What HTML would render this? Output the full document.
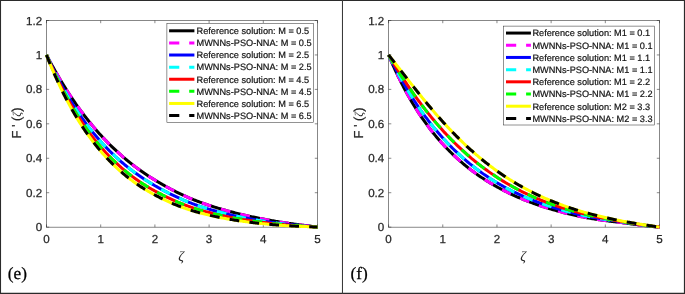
<!DOCTYPE html>
<html><head><meta charset="utf-8"><title>Figure</title>
<style>html,body{margin:0;padding:0;background:#fff}svg{display:block;will-change:transform}text{text-rendering:geometricPrecision}</style></head>
<body>
<svg width="685" height="294" viewBox="0 0 685 294">
<rect x="0" y="0" width="685" height="294" fill="#fff"/>
<rect x="46.5" y="20.5" width="271.0" height="206.65" fill="#fff" stroke="#262626" stroke-width="0.55"/>
<path d="M46.50 227.15v-2.7M46.50 20.5v2.7M100.70 227.15v-2.7M100.70 20.5v2.7M154.90 227.15v-2.7M154.90 20.5v2.7M209.10 227.15v-2.7M209.10 20.5v2.7M263.30 227.15v-2.7M263.30 20.5v2.7M317.50 227.15v-2.7M317.50 20.5v2.7M46.5 227.15h2.7M317.5 227.15h-2.7M46.5 192.71h2.7M317.5 192.71h-2.7M46.5 158.27h2.7M317.5 158.27h-2.7M46.5 123.82h2.7M317.5 123.82h-2.7M46.5 89.38h2.7M317.5 89.38h-2.7M46.5 54.94h2.7M317.5 54.94h-2.7M46.5 20.50h2.7M317.5 20.50h-2.7" stroke="#262626" stroke-width="0.55" fill="none"/>
<text x="46.50" y="243.15" text-anchor="middle" font-family="Liberation Sans, Arial, Helvetica, sans-serif" font-size="11.6" fill="#262626" stroke="#262626" stroke-width="0.25">0</text>
<text x="100.70" y="243.15" text-anchor="middle" font-family="Liberation Sans, Arial, Helvetica, sans-serif" font-size="11.6" fill="#262626" stroke="#262626" stroke-width="0.25">1</text>
<text x="154.90" y="243.15" text-anchor="middle" font-family="Liberation Sans, Arial, Helvetica, sans-serif" font-size="11.6" fill="#262626" stroke="#262626" stroke-width="0.25">2</text>
<text x="209.10" y="243.15" text-anchor="middle" font-family="Liberation Sans, Arial, Helvetica, sans-serif" font-size="11.6" fill="#262626" stroke="#262626" stroke-width="0.25">3</text>
<text x="263.30" y="243.15" text-anchor="middle" font-family="Liberation Sans, Arial, Helvetica, sans-serif" font-size="11.6" fill="#262626" stroke="#262626" stroke-width="0.25">4</text>
<text x="317.50" y="243.15" text-anchor="middle" font-family="Liberation Sans, Arial, Helvetica, sans-serif" font-size="11.6" fill="#262626" stroke="#262626" stroke-width="0.25">5</text>
<text x="42.20" y="231.15" text-anchor="end" font-family="Liberation Sans, Arial, Helvetica, sans-serif" font-size="11.6" fill="#262626" stroke="#262626" stroke-width="0.25">0</text>
<text x="42.20" y="196.71" text-anchor="end" font-family="Liberation Sans, Arial, Helvetica, sans-serif" font-size="11.6" fill="#262626" stroke="#262626" stroke-width="0.25">0.2</text>
<text x="42.20" y="162.27" text-anchor="end" font-family="Liberation Sans, Arial, Helvetica, sans-serif" font-size="11.6" fill="#262626" stroke="#262626" stroke-width="0.25">0.4</text>
<text x="42.20" y="127.82" text-anchor="end" font-family="Liberation Sans, Arial, Helvetica, sans-serif" font-size="11.6" fill="#262626" stroke="#262626" stroke-width="0.25">0.6</text>
<text x="42.20" y="93.38" text-anchor="end" font-family="Liberation Sans, Arial, Helvetica, sans-serif" font-size="11.6" fill="#262626" stroke="#262626" stroke-width="0.25">0.8</text>
<text x="42.20" y="58.94" text-anchor="end" font-family="Liberation Sans, Arial, Helvetica, sans-serif" font-size="11.6" fill="#262626" stroke="#262626" stroke-width="0.25">1</text>
<text x="42.20" y="24.50" text-anchor="end" font-family="Liberation Sans, Arial, Helvetica, sans-serif" font-size="11.6" fill="#262626" stroke="#262626" stroke-width="0.25">1.2</text>
<text x="181.00" y="261.15" text-anchor="middle" font-family="Liberation Serif, Times New Roman, serif" font-style="italic" font-size="14" fill="#262626">ζ</text>
<text transform="translate(20.60 123.03) rotate(-90)" text-anchor="middle" font-family="Liberation Sans, Arial, Helvetica, sans-serif" font-size="13" fill="#262626" stroke="#262626" stroke-width="0.25">F ' (<tspan font-family="Liberation Serif, Times New Roman, serif" font-style="italic" font-size="12" stroke="none">ζ</tspan>)</text>
<polyline points="46.50,54.94 47.58,57.02 48.67,59.08 49.75,61.11 50.84,63.12 51.92,65.11 53.00,67.08 54.09,69.03 55.17,70.95 56.26,72.86 57.34,74.74 58.42,76.60 59.51,78.44 60.59,80.27 61.68,82.07 62.76,83.85 63.84,85.61 64.93,87.35 66.01,89.08 67.10,90.78 68.18,92.47 69.26,94.13 70.35,95.78 71.43,97.41 72.52,99.02 73.60,100.62 74.68,102.19 75.77,103.75 76.85,105.29 77.94,106.81 79.02,108.32 80.10,109.81 81.19,111.28 82.27,112.74 83.36,114.18 84.44,115.60 85.52,117.01 86.61,118.40 87.69,119.77 88.78,121.13 89.86,122.47 90.94,123.80 92.03,125.12 93.11,126.41 94.20,127.70 95.28,128.97 96.36,130.22 97.45,131.46 98.53,132.69 99.62,133.90 100.70,135.09 101.78,136.28 102.87,137.45 103.95,138.60 105.04,139.75 106.12,140.88 107.20,141.99 108.29,143.10 109.37,144.19 110.46,145.26 111.54,146.33 112.62,147.38 113.71,148.42 114.79,149.45 115.88,150.47 116.96,151.47 118.04,152.47 119.13,153.45 120.21,154.42 121.30,155.38 122.38,156.32 123.46,157.26 124.55,158.18 125.63,159.10 126.72,160.00 127.80,160.89 128.88,161.77 129.97,162.65 131.05,163.51 132.14,164.36 133.22,165.20 134.30,166.03 135.39,166.85 136.47,167.66 137.56,168.46 138.64,169.26 139.72,170.04 140.81,170.81 141.89,171.58 142.98,172.33 144.06,173.08 145.14,173.81 146.23,174.54 147.31,175.26 148.40,175.97 149.48,176.67 150.56,177.37 151.65,178.05 152.73,178.73 153.82,179.40 154.90,180.06 155.98,180.72 157.07,181.36 158.15,182.01 159.24,182.65 160.32,183.28 161.40,183.90 162.49,184.52 163.57,185.14 164.66,185.75 165.74,186.35 166.82,186.95 167.91,187.54 168.99,188.12 170.08,188.70 171.16,189.27 172.24,189.84 173.33,190.40 174.41,190.95 175.50,191.50 176.58,192.05 177.66,192.58 178.75,193.11 179.83,193.63 180.92,194.15 182.00,194.66 183.08,195.17 184.17,195.66 185.25,196.15 186.34,196.64 187.42,197.12 188.50,197.59 189.59,198.05 190.67,198.51 191.76,198.96 192.84,199.40 193.92,199.84 195.01,200.27 196.09,200.69 197.18,201.11 198.26,201.52 199.34,201.92 200.43,202.32 201.51,202.71 202.60,203.10 203.68,203.48 204.76,203.86 205.85,204.24 206.93,204.61 208.02,204.97 209.10,205.33 210.18,205.69 211.27,206.04 212.35,206.39 213.44,206.74 214.52,207.08 215.60,207.42 216.69,207.75 217.77,208.08 218.86,208.40 219.94,208.72 221.02,209.04 222.11,209.36 223.19,209.67 224.28,209.97 225.36,210.28 226.44,210.58 227.53,210.87 228.61,211.17 229.70,211.46 230.78,211.74 231.86,212.03 232.95,212.31 234.03,212.58 235.12,212.86 236.20,213.13 237.28,213.40 238.37,213.66 239.45,213.92 240.54,214.18 241.62,214.44 242.70,214.69 243.79,214.94 244.87,215.19 245.96,215.44 247.04,215.68 248.12,215.92 249.21,216.16 250.29,216.40 251.38,216.63 252.46,216.86 253.54,217.09 254.63,217.32 255.71,217.54 256.80,217.76 257.88,217.98 258.96,218.20 260.05,218.41 261.13,218.63 262.22,218.84 263.30,219.05 264.38,219.25 265.47,219.46 266.55,219.66 267.64,219.87 268.72,220.07 269.80,220.26 270.89,220.46 271.97,220.66 273.06,220.85 274.14,221.04 275.22,221.23 276.31,221.41 277.39,221.60 278.48,221.77 279.56,221.95 280.64,222.12 281.73,222.29 282.81,222.45 283.90,222.62 284.98,222.78 286.06,222.94 287.15,223.09 288.23,223.25 289.32,223.40 290.40,223.55 291.48,223.70 292.57,223.84 293.65,223.99 294.74,224.13 295.82,224.28 296.90,224.42 297.99,224.56 299.07,224.70 300.16,224.84 301.24,224.98 302.32,225.12 303.41,225.26 304.49,225.40 305.58,225.54 306.66,225.68 307.74,225.83 308.83,225.97 309.91,226.11 311.00,226.26 312.08,226.40 313.16,226.55 314.25,226.70 315.33,226.85 316.42,227.00 317.50,227.15" fill="none" stroke="#000" stroke-width="3"/>
<polyline points="46.50,54.94 47.58,57.02 48.67,59.08 49.75,61.11 50.84,63.12 51.92,65.11 53.00,67.08 54.09,69.03 55.17,70.95 56.26,72.86 57.34,74.74 58.42,76.60 59.51,78.44 60.59,80.27 61.68,82.07 62.76,83.85 63.84,85.61 64.93,87.35 66.01,89.08 67.10,90.78 68.18,92.47 69.26,94.13 70.35,95.78 71.43,97.41 72.52,99.02 73.60,100.62 74.68,102.19 75.77,103.75 76.85,105.29 77.94,106.81 79.02,108.32 80.10,109.81 81.19,111.28 82.27,112.74 83.36,114.18 84.44,115.60 85.52,117.01 86.61,118.40 87.69,119.77 88.78,121.13 89.86,122.47 90.94,123.80 92.03,125.12 93.11,126.41 94.20,127.70 95.28,128.97 96.36,130.22 97.45,131.46 98.53,132.69 99.62,133.90 100.70,135.09 101.78,136.28 102.87,137.45 103.95,138.60 105.04,139.75 106.12,140.88 107.20,141.99 108.29,143.10 109.37,144.19 110.46,145.26 111.54,146.33 112.62,147.38 113.71,148.42 114.79,149.45 115.88,150.47 116.96,151.47 118.04,152.47 119.13,153.45 120.21,154.42 121.30,155.38 122.38,156.32 123.46,157.26 124.55,158.18 125.63,159.10 126.72,160.00 127.80,160.89 128.88,161.77 129.97,162.65 131.05,163.51 132.14,164.36 133.22,165.20 134.30,166.03 135.39,166.85 136.47,167.66 137.56,168.46 138.64,169.26 139.72,170.04 140.81,170.81 141.89,171.58 142.98,172.33 144.06,173.08 145.14,173.81 146.23,174.54 147.31,175.26 148.40,175.97 149.48,176.67 150.56,177.37 151.65,178.05 152.73,178.73 153.82,179.40 154.90,180.06 155.98,180.72 157.07,181.36 158.15,182.01 159.24,182.65 160.32,183.28 161.40,183.90 162.49,184.52 163.57,185.14 164.66,185.75 165.74,186.35 166.82,186.95 167.91,187.54 168.99,188.12 170.08,188.70 171.16,189.27 172.24,189.84 173.33,190.40 174.41,190.95 175.50,191.50 176.58,192.05 177.66,192.58 178.75,193.11 179.83,193.63 180.92,194.15 182.00,194.66 183.08,195.17 184.17,195.66 185.25,196.15 186.34,196.64 187.42,197.12 188.50,197.59 189.59,198.05 190.67,198.51 191.76,198.96 192.84,199.40 193.92,199.84 195.01,200.27 196.09,200.69 197.18,201.11 198.26,201.52 199.34,201.92 200.43,202.32 201.51,202.71 202.60,203.10 203.68,203.48 204.76,203.86 205.85,204.24 206.93,204.61 208.02,204.97 209.10,205.33 210.18,205.69 211.27,206.04 212.35,206.39 213.44,206.74 214.52,207.08 215.60,207.42 216.69,207.75 217.77,208.08 218.86,208.40 219.94,208.72 221.02,209.04 222.11,209.36 223.19,209.67 224.28,209.97 225.36,210.28 226.44,210.58 227.53,210.87 228.61,211.17 229.70,211.46 230.78,211.74 231.86,212.03 232.95,212.31 234.03,212.58 235.12,212.86 236.20,213.13 237.28,213.40 238.37,213.66 239.45,213.92 240.54,214.18 241.62,214.44 242.70,214.69 243.79,214.94 244.87,215.19 245.96,215.44 247.04,215.68 248.12,215.92 249.21,216.16 250.29,216.40 251.38,216.63 252.46,216.86 253.54,217.09 254.63,217.32 255.71,217.54 256.80,217.76 257.88,217.98 258.96,218.20 260.05,218.41 261.13,218.63 262.22,218.84 263.30,219.05 264.38,219.25 265.47,219.46 266.55,219.66 267.64,219.87 268.72,220.07 269.80,220.26 270.89,220.46 271.97,220.66 273.06,220.85 274.14,221.04 275.22,221.23 276.31,221.41 277.39,221.60 278.48,221.77 279.56,221.95 280.64,222.12 281.73,222.29 282.81,222.45 283.90,222.62 284.98,222.78 286.06,222.94 287.15,223.09 288.23,223.25 289.32,223.40 290.40,223.55 291.48,223.70 292.57,223.84 293.65,223.99 294.74,224.13 295.82,224.28 296.90,224.42 297.99,224.56 299.07,224.70 300.16,224.84 301.24,224.98 302.32,225.12 303.41,225.26 304.49,225.40 305.58,225.54 306.66,225.68 307.74,225.83 308.83,225.97 309.91,226.11 311.00,226.26 312.08,226.40 313.16,226.55 314.25,226.70 315.33,226.85 316.42,227.00 317.50,227.15" fill="none" stroke="#f0f" stroke-width="3" stroke-dasharray="9.8 10.2"/>
<polyline points="46.50,54.94 47.58,57.32 48.67,59.67 49.75,61.99 50.84,64.27 51.92,66.52 53.00,68.75 54.09,70.94 55.17,73.10 56.26,75.23 57.34,77.33 58.42,79.40 59.51,81.44 60.59,83.46 61.68,85.44 62.76,87.40 63.84,89.34 64.93,91.24 66.01,93.12 67.10,94.98 68.18,96.81 69.26,98.61 70.35,100.39 71.43,102.15 72.52,103.88 73.60,105.59 74.68,107.27 75.77,108.93 76.85,110.57 77.94,112.19 79.02,113.78 80.10,115.36 81.19,116.91 82.27,118.44 83.36,119.95 84.44,121.44 85.52,122.91 86.61,124.36 87.69,125.79 88.78,127.21 89.86,128.60 90.94,129.97 92.03,131.33 93.11,132.67 94.20,133.99 95.28,135.29 96.36,136.57 97.45,137.84 98.53,139.09 99.62,140.32 100.70,141.54 101.78,142.74 102.87,143.93 103.95,145.10 105.04,146.25 106.12,147.39 107.20,148.51 108.29,149.62 109.37,150.71 110.46,151.79 111.54,152.86 112.62,153.91 113.71,154.94 114.79,155.97 115.88,156.98 116.96,157.97 118.04,158.95 119.13,159.92 120.21,160.88 121.30,161.83 122.38,162.76 123.46,163.68 124.55,164.58 125.63,165.48 126.72,166.36 127.80,167.24 128.88,168.10 129.97,168.95 131.05,169.78 132.14,170.61 133.22,171.43 134.30,172.23 135.39,173.03 136.47,173.81 137.56,174.59 138.64,175.35 139.72,176.10 140.81,176.85 141.89,177.58 142.98,178.31 144.06,179.02 145.14,179.73 146.23,180.42 147.31,181.11 148.40,181.79 149.48,182.46 150.56,183.12 151.65,183.77 152.73,184.41 153.82,185.05 154.90,185.68 155.98,186.30 157.07,186.91 158.15,187.52 159.24,188.12 160.32,188.72 161.40,189.31 162.49,189.90 163.57,190.48 164.66,191.05 165.74,191.62 166.82,192.18 167.91,192.74 168.99,193.29 170.08,193.83 171.16,194.37 172.24,194.90 173.33,195.43 174.41,195.95 175.50,196.46 176.58,196.97 177.66,197.47 178.75,197.96 179.83,198.45 180.92,198.93 182.00,199.41 183.08,199.88 184.17,200.34 185.25,200.80 186.34,201.25 187.42,201.69 188.50,202.12 189.59,202.55 190.67,202.98 191.76,203.39 192.84,203.80 193.92,204.20 195.01,204.59 196.09,204.98 197.18,205.36 198.26,205.73 199.34,206.09 200.43,206.46 201.51,206.81 202.60,207.16 203.68,207.51 204.76,207.85 205.85,208.19 206.93,208.52 208.02,208.85 209.10,209.18 210.18,209.50 211.27,209.82 212.35,210.13 213.44,210.44 214.52,210.74 215.60,211.04 216.69,211.34 217.77,211.63 218.86,211.92 219.94,212.21 221.02,212.49 222.11,212.77 223.19,213.04 224.28,213.31 225.36,213.58 226.44,213.84 227.53,214.11 228.61,214.36 229.70,214.62 230.78,214.87 231.86,215.12 232.95,215.36 234.03,215.60 235.12,215.84 236.20,216.08 237.28,216.31 238.37,216.54 239.45,216.76 240.54,216.99 241.62,217.21 242.70,217.43 243.79,217.64 244.87,217.86 245.96,218.07 247.04,218.27 248.12,218.48 249.21,218.68 250.29,218.88 251.38,219.08 252.46,219.27 253.54,219.47 254.63,219.66 255.71,219.84 256.80,220.03 257.88,220.21 258.96,220.40 260.05,220.58 261.13,220.75 262.22,220.93 263.30,221.10 264.38,221.27 265.47,221.44 266.55,221.61 267.64,221.77 268.72,221.94 269.80,222.10 270.89,222.26 271.97,222.42 273.06,222.57 274.14,222.73 275.22,222.88 276.31,223.02 277.39,223.17 278.48,223.31 279.56,223.44 280.64,223.58 281.73,223.71 282.81,223.83 283.90,223.95 284.98,224.08 286.06,224.19 287.15,224.31 288.23,224.42 289.32,224.53 290.40,224.64 291.48,224.75 292.57,224.85 293.65,224.95 294.74,225.06 295.82,225.16 296.90,225.26 297.99,225.36 299.07,225.45 300.16,225.55 301.24,225.65 302.32,225.74 303.41,225.84 304.49,225.94 305.58,226.03 306.66,226.13 307.74,226.23 308.83,226.32 309.91,226.42 311.00,226.52 312.08,226.62 313.16,226.73 314.25,226.83 315.33,226.93 316.42,227.04 317.50,227.15" fill="none" stroke="#00f" stroke-width="3"/>
<polyline points="46.50,54.94 47.58,57.32 48.67,59.67 49.75,61.99 50.84,64.27 51.92,66.52 53.00,68.75 54.09,70.94 55.17,73.10 56.26,75.23 57.34,77.33 58.42,79.40 59.51,81.44 60.59,83.46 61.68,85.44 62.76,87.40 63.84,89.34 64.93,91.24 66.01,93.12 67.10,94.98 68.18,96.81 69.26,98.61 70.35,100.39 71.43,102.15 72.52,103.88 73.60,105.59 74.68,107.27 75.77,108.93 76.85,110.57 77.94,112.19 79.02,113.78 80.10,115.36 81.19,116.91 82.27,118.44 83.36,119.95 84.44,121.44 85.52,122.91 86.61,124.36 87.69,125.79 88.78,127.21 89.86,128.60 90.94,129.97 92.03,131.33 93.11,132.67 94.20,133.99 95.28,135.29 96.36,136.57 97.45,137.84 98.53,139.09 99.62,140.32 100.70,141.54 101.78,142.74 102.87,143.93 103.95,145.10 105.04,146.25 106.12,147.39 107.20,148.51 108.29,149.62 109.37,150.71 110.46,151.79 111.54,152.86 112.62,153.91 113.71,154.94 114.79,155.97 115.88,156.98 116.96,157.97 118.04,158.95 119.13,159.92 120.21,160.88 121.30,161.83 122.38,162.76 123.46,163.68 124.55,164.58 125.63,165.48 126.72,166.36 127.80,167.24 128.88,168.10 129.97,168.95 131.05,169.78 132.14,170.61 133.22,171.43 134.30,172.23 135.39,173.03 136.47,173.81 137.56,174.59 138.64,175.35 139.72,176.10 140.81,176.85 141.89,177.58 142.98,178.31 144.06,179.02 145.14,179.73 146.23,180.42 147.31,181.11 148.40,181.79 149.48,182.46 150.56,183.12 151.65,183.77 152.73,184.41 153.82,185.05 154.90,185.68 155.98,186.30 157.07,186.91 158.15,187.52 159.24,188.12 160.32,188.72 161.40,189.31 162.49,189.90 163.57,190.48 164.66,191.05 165.74,191.62 166.82,192.18 167.91,192.74 168.99,193.29 170.08,193.83 171.16,194.37 172.24,194.90 173.33,195.43 174.41,195.95 175.50,196.46 176.58,196.97 177.66,197.47 178.75,197.96 179.83,198.45 180.92,198.93 182.00,199.41 183.08,199.88 184.17,200.34 185.25,200.80 186.34,201.25 187.42,201.69 188.50,202.12 189.59,202.55 190.67,202.98 191.76,203.39 192.84,203.80 193.92,204.20 195.01,204.59 196.09,204.98 197.18,205.36 198.26,205.73 199.34,206.09 200.43,206.46 201.51,206.81 202.60,207.16 203.68,207.51 204.76,207.85 205.85,208.19 206.93,208.52 208.02,208.85 209.10,209.18 210.18,209.50 211.27,209.82 212.35,210.13 213.44,210.44 214.52,210.74 215.60,211.04 216.69,211.34 217.77,211.63 218.86,211.92 219.94,212.21 221.02,212.49 222.11,212.77 223.19,213.04 224.28,213.31 225.36,213.58 226.44,213.84 227.53,214.11 228.61,214.36 229.70,214.62 230.78,214.87 231.86,215.12 232.95,215.36 234.03,215.60 235.12,215.84 236.20,216.08 237.28,216.31 238.37,216.54 239.45,216.76 240.54,216.99 241.62,217.21 242.70,217.43 243.79,217.64 244.87,217.86 245.96,218.07 247.04,218.27 248.12,218.48 249.21,218.68 250.29,218.88 251.38,219.08 252.46,219.27 253.54,219.47 254.63,219.66 255.71,219.84 256.80,220.03 257.88,220.21 258.96,220.40 260.05,220.58 261.13,220.75 262.22,220.93 263.30,221.10 264.38,221.27 265.47,221.44 266.55,221.61 267.64,221.77 268.72,221.94 269.80,222.10 270.89,222.26 271.97,222.42 273.06,222.57 274.14,222.73 275.22,222.88 276.31,223.02 277.39,223.17 278.48,223.31 279.56,223.44 280.64,223.58 281.73,223.71 282.81,223.83 283.90,223.95 284.98,224.08 286.06,224.19 287.15,224.31 288.23,224.42 289.32,224.53 290.40,224.64 291.48,224.75 292.57,224.85 293.65,224.95 294.74,225.06 295.82,225.16 296.90,225.26 297.99,225.36 299.07,225.45 300.16,225.55 301.24,225.65 302.32,225.74 303.41,225.84 304.49,225.94 305.58,226.03 306.66,226.13 307.74,226.23 308.83,226.32 309.91,226.42 311.00,226.52 312.08,226.62 313.16,226.73 314.25,226.83 315.33,226.93 316.42,227.04 317.50,227.15" fill="none" stroke="#0ff" stroke-width="3" stroke-dasharray="9.8 10.2"/>
<polyline points="46.50,54.94 47.58,57.51 48.67,60.04 49.75,62.53 50.84,64.99 51.92,67.42 53.00,69.80 54.09,72.16 55.17,74.48 56.26,76.77 57.34,79.02 58.42,81.24 59.51,83.43 60.59,85.59 61.68,87.72 62.76,89.82 63.84,91.88 64.93,93.92 66.01,95.93 67.10,97.91 68.18,99.86 69.26,101.78 70.35,103.67 71.43,105.54 72.52,107.38 73.60,109.19 74.68,110.98 75.77,112.74 76.85,114.48 77.94,116.19 79.02,117.87 80.10,119.54 81.19,121.17 82.27,122.79 83.36,124.38 84.44,125.94 85.52,127.49 86.61,129.01 87.69,130.51 88.78,131.99 89.86,133.45 90.94,134.88 92.03,136.30 93.11,137.69 94.20,139.06 95.28,140.42 96.36,141.75 97.45,143.07 98.53,144.36 99.62,145.64 100.70,146.90 101.78,148.14 102.87,149.36 103.95,150.56 105.04,151.75 106.12,152.92 107.20,154.07 108.29,155.20 109.37,156.32 110.46,157.42 111.54,158.51 112.62,159.58 113.71,160.63 114.79,161.67 115.88,162.69 116.96,163.70 118.04,164.69 119.13,165.67 120.21,166.64 121.30,167.59 122.38,168.52 123.46,169.45 124.55,170.35 125.63,171.25 126.72,172.13 127.80,173.00 128.88,173.86 129.97,174.70 131.05,175.53 132.14,176.35 133.22,177.16 134.30,177.95 135.39,178.74 136.47,179.51 137.56,180.27 138.64,181.02 139.72,181.75 140.81,182.48 141.89,183.20 142.98,183.90 144.06,184.60 145.14,185.28 146.23,185.95 147.31,186.62 148.40,187.27 149.48,187.92 150.56,188.55 151.65,189.18 152.73,189.79 153.82,190.40 154.90,191.00 155.98,191.59 157.07,192.17 158.15,192.75 159.24,193.32 160.32,193.89 161.40,194.45 162.49,195.00 163.57,195.54 164.66,196.08 165.74,196.62 166.82,197.14 167.91,197.66 168.99,198.18 170.08,198.69 171.16,199.19 172.24,199.68 173.33,200.17 174.41,200.65 175.50,201.12 176.58,201.59 177.66,202.05 178.75,202.51 179.83,202.96 180.92,203.40 182.00,203.83 183.08,204.26 184.17,204.68 185.25,205.10 186.34,205.50 187.42,205.90 188.50,206.30 189.59,206.68 190.67,207.06 191.76,207.44 192.84,207.80 193.92,208.16 195.01,208.51 196.09,208.85 197.18,209.19 198.26,209.52 199.34,209.84 200.43,210.16 201.51,210.47 202.60,210.78 203.68,211.08 204.76,211.38 205.85,211.67 206.93,211.96 208.02,212.25 209.10,212.53 210.18,212.81 211.27,213.08 212.35,213.35 213.44,213.61 214.52,213.88 215.60,214.13 216.69,214.39 217.77,214.64 218.86,214.88 219.94,215.12 221.02,215.36 222.11,215.60 223.19,215.83 224.28,216.06 225.36,216.28 226.44,216.51 227.53,216.73 228.61,216.94 229.70,217.15 230.78,217.36 231.86,217.57 232.95,217.77 234.03,217.97 235.12,218.17 236.20,218.36 237.28,218.56 238.37,218.75 239.45,218.93 240.54,219.12 241.62,219.30 242.70,219.48 243.79,219.65 244.87,219.83 245.96,220.00 247.04,220.17 248.12,220.33 249.21,220.50 250.29,220.66 251.38,220.82 252.46,220.98 253.54,221.13 254.63,221.29 255.71,221.44 256.80,221.59 257.88,221.74 258.96,221.88 260.05,222.03 261.13,222.17 262.22,222.31 263.30,222.45 264.38,222.58 265.47,222.72 266.55,222.85 267.64,222.98 268.72,223.12 269.80,223.24 270.89,223.37 271.97,223.50 273.06,223.62 274.14,223.74 275.22,223.86 276.31,223.98 277.39,224.09 278.48,224.20 279.56,224.31 280.64,224.41 281.73,224.51 282.81,224.61 283.90,224.70 284.98,224.79 286.06,224.88 287.15,224.97 288.23,225.05 289.32,225.14 290.40,225.22 291.48,225.30 292.57,225.38 293.65,225.45 294.74,225.53 295.82,225.60 296.90,225.68 297.99,225.75 299.07,225.83 300.16,225.90 301.24,225.97 302.32,226.04 303.41,226.12 304.49,226.19 305.58,226.26 306.66,226.34 307.74,226.41 308.83,226.49 309.91,226.57 311.00,226.64 312.08,226.72 313.16,226.81 314.25,226.89 315.33,226.97 316.42,227.06 317.50,227.15" fill="none" stroke="#f00" stroke-width="3"/>
<polyline points="46.50,54.94 47.58,57.51 48.67,60.04 49.75,62.53 50.84,64.99 51.92,67.42 53.00,69.80 54.09,72.16 55.17,74.48 56.26,76.77 57.34,79.02 58.42,81.24 59.51,83.43 60.59,85.59 61.68,87.72 62.76,89.82 63.84,91.88 64.93,93.92 66.01,95.93 67.10,97.91 68.18,99.86 69.26,101.78 70.35,103.67 71.43,105.54 72.52,107.38 73.60,109.19 74.68,110.98 75.77,112.74 76.85,114.48 77.94,116.19 79.02,117.87 80.10,119.54 81.19,121.17 82.27,122.79 83.36,124.38 84.44,125.94 85.52,127.49 86.61,129.01 87.69,130.51 88.78,131.99 89.86,133.45 90.94,134.88 92.03,136.30 93.11,137.69 94.20,139.06 95.28,140.42 96.36,141.75 97.45,143.07 98.53,144.36 99.62,145.64 100.70,146.90 101.78,148.14 102.87,149.36 103.95,150.56 105.04,151.75 106.12,152.92 107.20,154.07 108.29,155.20 109.37,156.32 110.46,157.42 111.54,158.51 112.62,159.58 113.71,160.63 114.79,161.67 115.88,162.69 116.96,163.70 118.04,164.69 119.13,165.67 120.21,166.64 121.30,167.59 122.38,168.52 123.46,169.45 124.55,170.35 125.63,171.25 126.72,172.13 127.80,173.00 128.88,173.86 129.97,174.70 131.05,175.53 132.14,176.35 133.22,177.16 134.30,177.95 135.39,178.74 136.47,179.51 137.56,180.27 138.64,181.02 139.72,181.75 140.81,182.48 141.89,183.20 142.98,183.90 144.06,184.60 145.14,185.28 146.23,185.95 147.31,186.62 148.40,187.27 149.48,187.92 150.56,188.55 151.65,189.18 152.73,189.79 153.82,190.40 154.90,191.00 155.98,191.59 157.07,192.17 158.15,192.75 159.24,193.32 160.32,193.89 161.40,194.45 162.49,195.00 163.57,195.54 164.66,196.08 165.74,196.62 166.82,197.14 167.91,197.66 168.99,198.18 170.08,198.69 171.16,199.19 172.24,199.68 173.33,200.17 174.41,200.65 175.50,201.12 176.58,201.59 177.66,202.05 178.75,202.51 179.83,202.96 180.92,203.40 182.00,203.83 183.08,204.26 184.17,204.68 185.25,205.10 186.34,205.50 187.42,205.90 188.50,206.30 189.59,206.68 190.67,207.06 191.76,207.44 192.84,207.80 193.92,208.16 195.01,208.51 196.09,208.85 197.18,209.19 198.26,209.52 199.34,209.84 200.43,210.16 201.51,210.47 202.60,210.78 203.68,211.08 204.76,211.38 205.85,211.67 206.93,211.96 208.02,212.25 209.10,212.53 210.18,212.81 211.27,213.08 212.35,213.35 213.44,213.61 214.52,213.88 215.60,214.13 216.69,214.39 217.77,214.64 218.86,214.88 219.94,215.12 221.02,215.36 222.11,215.60 223.19,215.83 224.28,216.06 225.36,216.28 226.44,216.51 227.53,216.73 228.61,216.94 229.70,217.15 230.78,217.36 231.86,217.57 232.95,217.77 234.03,217.97 235.12,218.17 236.20,218.36 237.28,218.56 238.37,218.75 239.45,218.93 240.54,219.12 241.62,219.30 242.70,219.48 243.79,219.65 244.87,219.83 245.96,220.00 247.04,220.17 248.12,220.33 249.21,220.50 250.29,220.66 251.38,220.82 252.46,220.98 253.54,221.13 254.63,221.29 255.71,221.44 256.80,221.59 257.88,221.74 258.96,221.88 260.05,222.03 261.13,222.17 262.22,222.31 263.30,222.45 264.38,222.58 265.47,222.72 266.55,222.85 267.64,222.98 268.72,223.12 269.80,223.24 270.89,223.37 271.97,223.50 273.06,223.62 274.14,223.74 275.22,223.86 276.31,223.98 277.39,224.09 278.48,224.20 279.56,224.31 280.64,224.41 281.73,224.51 282.81,224.61 283.90,224.70 284.98,224.79 286.06,224.88 287.15,224.97 288.23,225.05 289.32,225.14 290.40,225.22 291.48,225.30 292.57,225.38 293.65,225.45 294.74,225.53 295.82,225.60 296.90,225.68 297.99,225.75 299.07,225.83 300.16,225.90 301.24,225.97 302.32,226.04 303.41,226.12 304.49,226.19 305.58,226.26 306.66,226.34 307.74,226.41 308.83,226.49 309.91,226.57 311.00,226.64 312.08,226.72 313.16,226.81 314.25,226.89 315.33,226.97 316.42,227.06 317.50,227.15" fill="none" stroke="#0f0" stroke-width="3" stroke-dasharray="9.8 10.2"/>
<polyline points="46.50,54.94 47.58,57.70 48.67,60.41 49.75,63.08 50.84,65.71 51.92,68.30 53.00,70.85 54.09,73.35 55.17,75.82 56.26,78.25 57.34,80.64 58.42,83.00 59.51,85.32 60.59,87.60 61.68,89.85 62.76,92.06 63.84,94.23 64.93,96.38 66.01,98.49 67.10,100.56 68.18,102.61 69.26,104.62 70.35,106.60 71.43,108.55 72.52,110.47 73.60,112.36 74.68,114.22 75.77,116.05 76.85,117.86 77.94,119.63 79.02,121.38 80.10,123.10 81.19,124.80 82.27,126.46 83.36,128.10 84.44,129.72 85.52,131.31 86.61,132.88 87.69,134.42 88.78,135.94 89.86,137.43 90.94,138.90 92.03,140.35 93.11,141.78 94.20,143.18 95.28,144.56 96.36,145.92 97.45,147.26 98.53,148.58 99.62,149.87 100.70,151.15 101.78,152.41 102.87,153.65 103.95,154.87 105.04,156.06 106.12,157.25 107.20,158.41 108.29,159.55 109.37,160.68 110.46,161.79 111.54,162.88 112.62,163.95 113.71,165.01 114.79,166.05 115.88,167.08 116.96,168.08 118.04,169.08 119.13,170.06 120.21,171.02 121.30,171.96 122.38,172.90 123.46,173.81 124.55,174.72 125.63,175.61 126.72,176.48 127.80,177.34 128.88,178.19 129.97,179.02 131.05,179.85 132.14,180.65 133.22,181.45 134.30,182.23 135.39,183.00 136.47,183.76 137.56,184.51 138.64,185.24 139.72,185.97 140.81,186.68 141.89,187.38 142.98,188.07 144.06,188.75 145.14,189.41 146.23,190.07 147.31,190.72 148.40,191.35 149.48,191.98 150.56,192.60 151.65,193.21 152.73,193.81 153.82,194.40 154.90,194.99 155.98,195.57 157.07,196.14 158.15,196.70 159.24,197.26 160.32,197.81 161.40,198.35 162.49,198.88 163.57,199.41 164.66,199.93 165.74,200.44 166.82,200.94 167.91,201.44 168.99,201.93 170.08,202.41 171.16,202.88 172.24,203.35 173.33,203.81 174.41,204.26 175.50,204.71 176.58,205.15 177.66,205.58 178.75,206.00 179.83,206.42 180.92,206.83 182.00,207.23 183.08,207.62 184.17,208.01 185.25,208.39 186.34,208.76 187.42,209.13 188.50,209.48 189.59,209.83 190.67,210.18 191.76,210.51 192.84,210.84 193.92,211.16 195.01,211.48 196.09,211.79 197.18,212.10 198.26,212.40 199.34,212.70 200.43,212.99 201.51,213.27 202.60,213.56 203.68,213.83 204.76,214.11 205.85,214.37 206.93,214.64 208.02,214.90 209.10,215.15 210.18,215.40 211.27,215.65 212.35,215.89 213.44,216.13 214.52,216.37 215.60,216.60 216.69,216.83 217.77,217.05 218.86,217.27 219.94,217.49 221.02,217.70 222.11,217.91 223.19,218.11 224.28,218.31 225.36,218.51 226.44,218.71 227.53,218.90 228.61,219.09 229.70,219.28 230.78,219.46 231.86,219.64 232.95,219.82 234.03,219.99 235.12,220.16 236.20,220.33 237.28,220.50 238.37,220.66 239.45,220.82 240.54,220.98 241.62,221.13 242.70,221.28 243.79,221.43 244.87,221.58 245.96,221.72 247.04,221.87 248.12,222.01 249.21,222.14 250.29,222.28 251.38,222.41 252.46,222.55 253.54,222.67 254.63,222.80 255.71,222.93 256.80,223.05 257.88,223.17 258.96,223.29 260.05,223.41 261.13,223.52 262.22,223.63 263.30,223.75 264.38,223.86 265.47,223.96 266.55,224.07 267.64,224.18 268.72,224.28 269.80,224.38 270.89,224.48 271.97,224.58 273.06,224.67 274.14,224.77 275.22,224.86 276.31,224.95 277.39,225.04 278.48,225.12 279.56,225.20 280.64,225.28 281.73,225.35 282.81,225.43 283.90,225.50 284.98,225.56 286.06,225.63 287.15,225.69 288.23,225.75 289.32,225.81 290.40,225.87 291.48,225.93 292.57,225.98 293.65,226.03 294.74,226.09 295.82,226.14 296.90,226.19 297.99,226.24 299.07,226.29 300.16,226.34 301.24,226.38 302.32,226.43 303.41,226.48 304.49,226.53 305.58,226.58 306.66,226.62 307.74,226.67 308.83,226.72 309.91,226.77 311.00,226.82 312.08,226.87 313.16,226.93 314.25,226.98 315.33,227.04 316.42,227.09 317.50,227.15" fill="none" stroke="#ff0" stroke-width="3"/>
<polyline points="46.50,54.94 47.58,57.70 48.67,60.41 49.75,63.08 50.84,65.71 51.92,68.30 53.00,70.85 54.09,73.35 55.17,75.82 56.26,78.25 57.34,80.64 58.42,83.00 59.51,85.32 60.59,87.60 61.68,89.85 62.76,92.06 63.84,94.23 64.93,96.38 66.01,98.49 67.10,100.56 68.18,102.61 69.26,104.62 70.35,106.60 71.43,108.55 72.52,110.47 73.60,112.36 74.68,114.22 75.77,116.05 76.85,117.86 77.94,119.63 79.02,121.38 80.10,123.10 81.19,124.80 82.27,126.46 83.36,128.10 84.44,129.72 85.52,131.31 86.61,132.88 87.69,134.42 88.78,135.94 89.86,137.43 90.94,138.90 92.03,140.35 93.11,141.78 94.20,143.18 95.28,144.56 96.36,145.92 97.45,147.26 98.53,148.58 99.62,149.87 100.70,151.15 101.78,152.41 102.87,153.65 103.95,154.87 105.04,156.06 106.12,157.25 107.20,158.41 108.29,159.55 109.37,160.68 110.46,161.79 111.54,162.88 112.62,163.95 113.71,165.01 114.79,166.05 115.88,167.08 116.96,168.08 118.04,169.08 119.13,170.06 120.21,171.02 121.30,171.96 122.38,172.90 123.46,173.81 124.55,174.72 125.63,175.61 126.72,176.48 127.80,177.34 128.88,178.19 129.97,179.02 131.05,179.85 132.14,180.65 133.22,181.45 134.30,182.23 135.39,183.00 136.47,183.76 137.56,184.51 138.64,185.24 139.72,185.97 140.81,186.68 141.89,187.38 142.98,188.07 144.06,188.75 145.14,189.41 146.23,190.07 147.31,190.72 148.40,191.35 149.48,191.98 150.56,192.60 151.65,193.21 152.73,193.81 153.82,194.40 154.90,194.99 155.98,195.57 157.07,196.14 158.15,196.70 159.24,197.26 160.32,197.81 161.40,198.35 162.49,198.88 163.57,199.41 164.66,199.93 165.74,200.44 166.82,200.94 167.91,201.44 168.99,201.93 170.08,202.41 171.16,202.88 172.24,203.35 173.33,203.81 174.41,204.26 175.50,204.71 176.58,205.15 177.66,205.58 178.75,206.00 179.83,206.42 180.92,206.83 182.00,207.23 183.08,207.62 184.17,208.01 185.25,208.39 186.34,208.76 187.42,209.13 188.50,209.48 189.59,209.83 190.67,210.18 191.76,210.51 192.84,210.84 193.92,211.16 195.01,211.48 196.09,211.79 197.18,212.10 198.26,212.40 199.34,212.70 200.43,212.99 201.51,213.27 202.60,213.56 203.68,213.83 204.76,214.11 205.85,214.37 206.93,214.64 208.02,214.90 209.10,215.15 210.18,215.40 211.27,215.65 212.35,215.89 213.44,216.13 214.52,216.37 215.60,216.60 216.69,216.83 217.77,217.05 218.86,217.27 219.94,217.49 221.02,217.70 222.11,217.91 223.19,218.11 224.28,218.31 225.36,218.51 226.44,218.71 227.53,218.90 228.61,219.09 229.70,219.28 230.78,219.46 231.86,219.64 232.95,219.82 234.03,219.99 235.12,220.16 236.20,220.33 237.28,220.50 238.37,220.66 239.45,220.82 240.54,220.98 241.62,221.13 242.70,221.28 243.79,221.43 244.87,221.58 245.96,221.72 247.04,221.87 248.12,222.01 249.21,222.14 250.29,222.28 251.38,222.41 252.46,222.55 253.54,222.67 254.63,222.80 255.71,222.93 256.80,223.05 257.88,223.17 258.96,223.29 260.05,223.41 261.13,223.52 262.22,223.63 263.30,223.75 264.38,223.86 265.47,223.96 266.55,224.07 267.64,224.18 268.72,224.28 269.80,224.38 270.89,224.48 271.97,224.58 273.06,224.67 274.14,224.77 275.22,224.86 276.31,224.95 277.39,225.04 278.48,225.12 279.56,225.20 280.64,225.28 281.73,225.35 282.81,225.43 283.90,225.50 284.98,225.56 286.06,225.63 287.15,225.69 288.23,225.75 289.32,225.81 290.40,225.87 291.48,225.93 292.57,225.98 293.65,226.03 294.74,226.09 295.82,226.14 296.90,226.19 297.99,226.24 299.07,226.29 300.16,226.34 301.24,226.38 302.32,226.43 303.41,226.48 304.49,226.53 305.58,226.58 306.66,226.62 307.74,226.67 308.83,226.72 309.91,226.77 311.00,226.82 312.08,226.87 313.16,226.93 314.25,226.98 315.33,227.04 316.42,227.09 317.50,227.15" fill="none" stroke="#000" stroke-width="3" stroke-dasharray="9.8 10.2"/>
<rect x="166.9" y="23.4" width="146.50" height="99.00" fill="#fff" stroke="#262626" stroke-width="0.5"/>
<path d="M169.1 30.80H194.4" stroke="#000" stroke-width="3"/>
<text x="196.5" y="34.10" font-family="Liberation Sans, Arial, Helvetica, sans-serif" font-size="9.2" fill="#111" stroke="#111" stroke-width="0.2">Reference solution: M = 0.5</text>
<path d="M169.1 42.91H194.4" stroke="#f0f" stroke-width="3" stroke-dasharray="10.2 9.9"/>
<text x="196.5" y="46.21" font-family="Liberation Sans, Arial, Helvetica, sans-serif" font-size="9.2" fill="#111" stroke="#111" stroke-width="0.2">MWNNs-PSO-NNA: M = 0.5</text>
<path d="M169.1 55.02H194.4" stroke="#00f" stroke-width="3"/>
<text x="196.5" y="58.32" font-family="Liberation Sans, Arial, Helvetica, sans-serif" font-size="9.2" fill="#111" stroke="#111" stroke-width="0.2">Reference solution: M = 2.5</text>
<path d="M169.1 67.13H194.4" stroke="#0ff" stroke-width="3" stroke-dasharray="10.2 9.9"/>
<text x="196.5" y="70.43" font-family="Liberation Sans, Arial, Helvetica, sans-serif" font-size="9.2" fill="#111" stroke="#111" stroke-width="0.2">MWNNs-PSO-NNA: M = 2.5</text>
<path d="M169.1 79.24H194.4" stroke="#f00" stroke-width="3"/>
<text x="196.5" y="82.54" font-family="Liberation Sans, Arial, Helvetica, sans-serif" font-size="9.2" fill="#111" stroke="#111" stroke-width="0.2">Reference solution: M = 4.5</text>
<path d="M169.1 91.35H194.4" stroke="#0f0" stroke-width="3" stroke-dasharray="10.2 9.9"/>
<text x="196.5" y="94.65" font-family="Liberation Sans, Arial, Helvetica, sans-serif" font-size="9.2" fill="#111" stroke="#111" stroke-width="0.2">MWNNs-PSO-NNA: M = 4.5</text>
<path d="M169.1 103.46H194.4" stroke="#ff0" stroke-width="3"/>
<text x="196.5" y="106.76" font-family="Liberation Sans, Arial, Helvetica, sans-serif" font-size="9.2" fill="#111" stroke="#111" stroke-width="0.2">Reference solution: M = 6.5</text>
<path d="M169.1 115.57H194.4" stroke="#000" stroke-width="3" stroke-dasharray="10.2 9.9"/>
<text x="196.5" y="118.87" font-family="Liberation Sans, Arial, Helvetica, sans-serif" font-size="9.2" fill="#111" stroke="#111" stroke-width="0.2">MWNNs-PSO-NNA: M = 6.5</text>
<text x="7.8" y="279.2" font-family="Liberation Serif, Times New Roman, serif" font-size="17.3" fill="#000" stroke="#000" stroke-width="0.25">(e)</text>
<rect x="388.6" y="20.5" width="270.9" height="206.65" fill="#fff" stroke="#262626" stroke-width="0.55"/>
<path d="M388.60 227.15v-2.7M388.60 20.5v2.7M442.78 227.15v-2.7M442.78 20.5v2.7M496.96 227.15v-2.7M496.96 20.5v2.7M551.14 227.15v-2.7M551.14 20.5v2.7M605.32 227.15v-2.7M605.32 20.5v2.7M659.50 227.15v-2.7M659.50 20.5v2.7M388.6 227.15h2.7M659.5 227.15h-2.7M388.6 192.71h2.7M659.5 192.71h-2.7M388.6 158.27h2.7M659.5 158.27h-2.7M388.6 123.82h2.7M659.5 123.82h-2.7M388.6 89.38h2.7M659.5 89.38h-2.7M388.6 54.94h2.7M659.5 54.94h-2.7M388.6 20.50h2.7M659.5 20.50h-2.7" stroke="#262626" stroke-width="0.55" fill="none"/>
<text x="388.60" y="243.15" text-anchor="middle" font-family="Liberation Sans, Arial, Helvetica, sans-serif" font-size="11.6" fill="#262626" stroke="#262626" stroke-width="0.25">0</text>
<text x="442.78" y="243.15" text-anchor="middle" font-family="Liberation Sans, Arial, Helvetica, sans-serif" font-size="11.6" fill="#262626" stroke="#262626" stroke-width="0.25">1</text>
<text x="496.96" y="243.15" text-anchor="middle" font-family="Liberation Sans, Arial, Helvetica, sans-serif" font-size="11.6" fill="#262626" stroke="#262626" stroke-width="0.25">2</text>
<text x="551.14" y="243.15" text-anchor="middle" font-family="Liberation Sans, Arial, Helvetica, sans-serif" font-size="11.6" fill="#262626" stroke="#262626" stroke-width="0.25">3</text>
<text x="605.32" y="243.15" text-anchor="middle" font-family="Liberation Sans, Arial, Helvetica, sans-serif" font-size="11.6" fill="#262626" stroke="#262626" stroke-width="0.25">4</text>
<text x="659.50" y="243.15" text-anchor="middle" font-family="Liberation Sans, Arial, Helvetica, sans-serif" font-size="11.6" fill="#262626" stroke="#262626" stroke-width="0.25">5</text>
<text x="384.30" y="231.15" text-anchor="end" font-family="Liberation Sans, Arial, Helvetica, sans-serif" font-size="11.6" fill="#262626" stroke="#262626" stroke-width="0.25">0</text>
<text x="384.30" y="196.71" text-anchor="end" font-family="Liberation Sans, Arial, Helvetica, sans-serif" font-size="11.6" fill="#262626" stroke="#262626" stroke-width="0.25">0.2</text>
<text x="384.30" y="162.27" text-anchor="end" font-family="Liberation Sans, Arial, Helvetica, sans-serif" font-size="11.6" fill="#262626" stroke="#262626" stroke-width="0.25">0.4</text>
<text x="384.30" y="127.82" text-anchor="end" font-family="Liberation Sans, Arial, Helvetica, sans-serif" font-size="11.6" fill="#262626" stroke="#262626" stroke-width="0.25">0.6</text>
<text x="384.30" y="93.38" text-anchor="end" font-family="Liberation Sans, Arial, Helvetica, sans-serif" font-size="11.6" fill="#262626" stroke="#262626" stroke-width="0.25">0.8</text>
<text x="384.30" y="58.94" text-anchor="end" font-family="Liberation Sans, Arial, Helvetica, sans-serif" font-size="11.6" fill="#262626" stroke="#262626" stroke-width="0.25">1</text>
<text x="384.30" y="24.50" text-anchor="end" font-family="Liberation Sans, Arial, Helvetica, sans-serif" font-size="11.6" fill="#262626" stroke="#262626" stroke-width="0.25">1.2</text>
<text x="523.05" y="261.15" text-anchor="middle" font-family="Liberation Serif, Times New Roman, serif" font-style="italic" font-size="14" fill="#262626">ζ</text>
<text transform="translate(362.70 123.03) rotate(-90)" text-anchor="middle" font-family="Liberation Sans, Arial, Helvetica, sans-serif" font-size="13" fill="#262626" stroke="#262626" stroke-width="0.25">F ' (<tspan font-family="Liberation Serif, Times New Roman, serif" font-style="italic" font-size="12" stroke="none">ζ</tspan>)</text>
<polyline points="388.60,54.94 389.68,57.53 390.77,60.08 391.85,62.58 392.93,65.04 394.02,67.46 395.10,69.84 396.19,72.17 397.27,74.47 398.35,76.73 399.44,78.95 400.52,81.14 401.60,83.29 402.69,85.40 403.77,87.48 404.85,89.53 405.94,91.54 407.02,93.52 408.10,95.46 409.19,97.38 410.27,99.26 411.36,101.12 412.44,102.94 413.52,104.74 414.61,106.51 415.69,108.25 416.77,109.96 417.86,111.65 418.94,113.31 420.02,114.94 421.11,116.55 422.19,118.13 423.28,119.69 424.36,121.23 425.44,122.74 426.53,124.23 427.61,125.70 428.69,127.15 429.78,128.57 430.86,129.97 431.94,131.35 433.03,132.72 434.11,134.06 435.19,135.38 436.28,136.68 437.36,137.96 438.45,139.23 439.53,140.47 440.61,141.70 441.70,142.91 442.78,144.10 443.86,145.28 444.95,146.44 446.03,147.58 447.11,148.71 448.20,149.82 449.28,150.91 450.37,151.99 451.45,153.05 452.53,154.10 453.62,155.14 454.70,156.16 455.78,157.16 456.87,158.16 457.95,159.13 459.03,160.10 460.12,161.05 461.20,161.99 462.28,162.92 463.37,163.83 464.45,164.73 465.54,165.62 466.62,166.50 467.70,167.36 468.79,168.22 469.87,169.06 470.95,169.89 472.04,170.71 473.12,171.52 474.20,172.32 475.29,173.10 476.37,173.88 477.46,174.65 478.54,175.40 479.62,176.15 480.71,176.89 481.79,177.62 482.87,178.33 483.96,179.04 485.04,179.74 486.12,180.43 487.21,181.11 488.29,181.79 489.37,182.45 490.46,183.10 491.54,183.75 492.63,184.39 493.71,185.02 494.79,185.64 495.88,186.26 496.96,186.86 498.04,187.46 499.13,188.05 500.21,188.64 501.29,189.21 502.38,189.78 503.46,190.34 504.55,190.90 505.63,191.44 506.71,191.98 507.80,192.52 508.88,193.04 509.96,193.56 511.05,194.08 512.13,194.59 513.21,195.09 514.30,195.58 515.38,196.07 516.46,196.55 517.55,197.03 518.63,197.50 519.72,197.96 520.80,198.42 521.88,198.87 522.97,199.32 524.05,199.76 525.13,200.19 526.22,200.62 527.30,201.05 528.38,201.47 529.47,201.88 530.55,202.29 531.64,202.69 532.72,203.09 533.80,203.49 534.89,203.87 535.97,204.26 537.05,204.64 538.14,205.01 539.22,205.38 540.30,205.74 541.39,206.10 542.47,206.46 543.55,206.81 544.64,207.16 545.72,207.50 546.81,207.84 547.89,208.17 548.97,208.50 550.06,208.83 551.14,209.15 552.22,209.47 553.31,209.78 554.39,210.09 555.47,210.39 556.56,210.70 557.64,210.99 558.73,211.29 559.81,211.58 560.89,211.86 561.98,212.15 563.06,212.43 564.14,212.70 565.23,212.97 566.31,213.24 567.39,213.51 568.48,213.77 569.56,214.03 570.64,214.28 571.73,214.54 572.81,214.78 573.90,215.03 574.98,215.27 576.06,215.51 577.15,215.75 578.23,215.98 579.31,216.21 580.40,216.44 581.48,216.66 582.56,216.88 583.65,217.10 584.73,217.32 585.82,217.53 586.90,217.73 587.98,217.93 589.07,218.13 590.15,218.32 591.23,218.50 592.32,218.68 593.40,218.86 594.48,219.03 595.57,219.20 596.65,219.37 597.73,219.53 598.82,219.69 599.90,219.85 600.99,220.00 602.07,220.15 603.15,220.30 604.24,220.44 605.32,220.59 606.40,220.73 607.49,220.87 608.57,221.00 609.65,221.14 610.74,221.27 611.82,221.40 612.91,221.53 613.99,221.66 615.07,221.79 616.16,221.92 617.24,222.06 618.32,222.20 619.41,222.34 620.49,222.48 621.57,222.62 622.66,222.76 623.74,222.90 624.82,223.03 625.91,223.17 626.99,223.30 628.08,223.45 629.16,223.60 630.24,223.75 631.33,223.90 632.41,224.04 633.49,224.19 634.58,224.33 635.66,224.48 636.74,224.62 637.83,224.76 638.91,224.90 640.00,225.04 641.08,225.17 642.16,225.31 643.25,225.44 644.33,225.57 645.41,225.70 646.50,225.83 647.58,225.95 648.66,226.08 649.75,226.20 650.83,226.31 651.91,226.43 653.00,226.54 654.08,226.65 655.17,226.76 656.25,226.86 657.33,226.96 658.42,227.06 659.50,227.15" fill="none" stroke="#000" stroke-width="3"/>
<polyline points="388.60,54.94 389.68,57.53 390.77,60.08 391.85,62.58 392.93,65.04 394.02,67.46 395.10,69.84 396.19,72.17 397.27,74.47 398.35,76.73 399.44,78.95 400.52,81.14 401.60,83.29 402.69,85.40 403.77,87.48 404.85,89.53 405.94,91.54 407.02,93.52 408.10,95.46 409.19,97.38 410.27,99.26 411.36,101.12 412.44,102.94 413.52,104.74 414.61,106.51 415.69,108.25 416.77,109.96 417.86,111.65 418.94,113.31 420.02,114.94 421.11,116.55 422.19,118.13 423.28,119.69 424.36,121.23 425.44,122.74 426.53,124.23 427.61,125.70 428.69,127.15 429.78,128.57 430.86,129.97 431.94,131.35 433.03,132.72 434.11,134.06 435.19,135.38 436.28,136.68 437.36,137.96 438.45,139.23 439.53,140.47 440.61,141.70 441.70,142.91 442.78,144.10 443.86,145.28 444.95,146.44 446.03,147.58 447.11,148.71 448.20,149.82 449.28,150.91 450.37,151.99 451.45,153.05 452.53,154.10 453.62,155.14 454.70,156.16 455.78,157.16 456.87,158.16 457.95,159.13 459.03,160.10 460.12,161.05 461.20,161.99 462.28,162.92 463.37,163.83 464.45,164.73 465.54,165.62 466.62,166.50 467.70,167.36 468.79,168.22 469.87,169.06 470.95,169.89 472.04,170.71 473.12,171.52 474.20,172.32 475.29,173.10 476.37,173.88 477.46,174.65 478.54,175.40 479.62,176.15 480.71,176.89 481.79,177.62 482.87,178.33 483.96,179.04 485.04,179.74 486.12,180.43 487.21,181.11 488.29,181.79 489.37,182.45 490.46,183.10 491.54,183.75 492.63,184.39 493.71,185.02 494.79,185.64 495.88,186.26 496.96,186.86 498.04,187.46 499.13,188.05 500.21,188.64 501.29,189.21 502.38,189.78 503.46,190.34 504.55,190.90 505.63,191.44 506.71,191.98 507.80,192.52 508.88,193.04 509.96,193.56 511.05,194.08 512.13,194.59 513.21,195.09 514.30,195.58 515.38,196.07 516.46,196.55 517.55,197.03 518.63,197.50 519.72,197.96 520.80,198.42 521.88,198.87 522.97,199.32 524.05,199.76 525.13,200.19 526.22,200.62 527.30,201.05 528.38,201.47 529.47,201.88 530.55,202.29 531.64,202.69 532.72,203.09 533.80,203.49 534.89,203.87 535.97,204.26 537.05,204.64 538.14,205.01 539.22,205.38 540.30,205.74 541.39,206.10 542.47,206.46 543.55,206.81 544.64,207.16 545.72,207.50 546.81,207.84 547.89,208.17 548.97,208.50 550.06,208.83 551.14,209.15 552.22,209.47 553.31,209.78 554.39,210.09 555.47,210.39 556.56,210.70 557.64,210.99 558.73,211.29 559.81,211.58 560.89,211.86 561.98,212.15 563.06,212.43 564.14,212.70 565.23,212.97 566.31,213.24 567.39,213.51 568.48,213.77 569.56,214.03 570.64,214.28 571.73,214.54 572.81,214.78 573.90,215.03 574.98,215.27 576.06,215.51 577.15,215.75 578.23,215.98 579.31,216.21 580.40,216.44 581.48,216.66 582.56,216.88 583.65,217.10 584.73,217.32 585.82,217.53 586.90,217.73 587.98,217.93 589.07,218.13 590.15,218.32 591.23,218.50 592.32,218.68 593.40,218.86 594.48,219.03 595.57,219.20 596.65,219.37 597.73,219.53 598.82,219.69 599.90,219.85 600.99,220.00 602.07,220.15 603.15,220.30 604.24,220.44 605.32,220.59 606.40,220.73 607.49,220.87 608.57,221.00 609.65,221.14 610.74,221.27 611.82,221.40 612.91,221.53 613.99,221.66 615.07,221.79 616.16,221.92 617.24,222.06 618.32,222.20 619.41,222.34 620.49,222.48 621.57,222.62 622.66,222.76 623.74,222.90 624.82,223.03 625.91,223.17 626.99,223.30 628.08,223.45 629.16,223.60 630.24,223.75 631.33,223.90 632.41,224.04 633.49,224.19 634.58,224.33 635.66,224.48 636.74,224.62 637.83,224.76 638.91,224.90 640.00,225.04 641.08,225.17 642.16,225.31 643.25,225.44 644.33,225.57 645.41,225.70 646.50,225.83 647.58,225.95 648.66,226.08 649.75,226.20 650.83,226.31 651.91,226.43 653.00,226.54 654.08,226.65 655.17,226.76 656.25,226.86 657.33,226.96 658.42,227.06 659.50,227.15" fill="none" stroke="#f0f" stroke-width="3" stroke-dasharray="9.8 10.2"/>
<polyline points="388.60,54.94 389.68,57.16 390.77,59.35 391.85,61.51 392.93,63.65 394.02,65.76 395.10,67.84 396.19,69.90 397.27,71.93 398.35,73.93 399.44,75.92 400.52,77.87 401.60,79.80 402.69,81.71 403.77,83.60 404.85,85.46 405.94,87.30 407.02,89.11 408.10,90.91 409.19,92.68 410.27,94.43 411.36,96.15 412.44,97.86 413.52,99.55 414.61,101.21 415.69,102.85 416.77,104.48 417.86,106.08 418.94,107.66 420.02,109.23 421.11,110.77 422.19,112.30 423.28,113.81 424.36,115.30 425.44,116.77 426.53,118.22 427.61,119.65 428.69,121.07 429.78,122.47 430.86,123.85 431.94,125.22 433.03,126.57 434.11,127.90 435.19,129.21 436.28,130.51 437.36,131.80 438.45,133.07 439.53,134.32 440.61,135.55 441.70,136.78 442.78,137.98 443.86,139.18 444.95,140.35 446.03,141.52 447.11,142.66 448.20,143.80 449.28,144.92 450.37,146.03 451.45,147.12 452.53,148.20 453.62,149.27 454.70,150.32 455.78,151.36 456.87,152.39 457.95,153.41 459.03,154.41 460.12,155.40 461.20,156.38 462.28,157.34 463.37,158.30 464.45,159.24 465.54,160.17 466.62,161.09 467.70,162.00 468.79,162.90 469.87,163.79 470.95,164.66 472.04,165.53 473.12,166.38 474.20,167.22 475.29,168.06 476.37,168.88 477.46,169.69 478.54,170.50 479.62,171.29 480.71,172.07 481.79,172.85 482.87,173.61 483.96,174.37 485.04,175.11 486.12,175.85 487.21,176.58 488.29,177.29 489.37,178.00 490.46,178.70 491.54,179.40 492.63,180.08 493.71,180.76 494.79,181.42 495.88,182.08 496.96,182.73 498.04,183.37 499.13,184.01 500.21,184.63 501.29,185.25 502.38,185.86 503.46,186.47 504.55,187.06 505.63,187.65 506.71,188.23 507.80,188.81 508.88,189.38 509.96,189.94 511.05,190.49 512.13,191.04 513.21,191.58 514.30,192.11 515.38,192.64 516.46,193.15 517.55,193.67 518.63,194.18 519.72,194.68 520.80,195.17 521.88,195.66 522.97,196.14 524.05,196.62 525.13,197.09 526.22,197.55 527.30,198.01 528.38,198.46 529.47,198.91 530.55,199.35 531.64,199.79 532.72,200.22 533.80,200.65 534.89,201.07 535.97,201.48 537.05,201.89 538.14,202.29 539.22,202.69 540.30,203.09 541.39,203.48 542.47,203.86 543.55,204.24 544.64,204.62 545.72,204.99 546.81,205.36 547.89,205.72 548.97,206.07 550.06,206.43 551.14,206.78 552.22,207.12 553.31,207.46 554.39,207.79 555.47,208.13 556.56,208.45 557.64,208.78 558.73,209.09 559.81,209.41 560.89,209.72 561.98,210.03 563.06,210.33 564.14,210.63 565.23,210.93 566.31,211.22 567.39,211.51 568.48,211.79 569.56,212.08 570.64,212.35 571.73,212.63 572.81,212.90 573.90,213.17 574.98,213.43 576.06,213.70 577.15,213.95 578.23,214.21 579.31,214.46 580.40,214.71 581.48,214.96 582.56,215.20 583.65,215.44 584.73,215.68 585.82,215.91 586.90,216.14 587.98,216.36 589.07,216.58 590.15,216.79 591.23,217.00 592.32,217.21 593.40,217.41 594.48,217.61 595.57,217.81 596.65,218.00 597.73,218.19 598.82,218.37 599.90,218.56 600.99,218.74 602.07,218.91 603.15,219.09 604.24,219.26 605.32,219.43 606.40,219.60 607.49,219.77 608.57,219.93 609.65,220.09 610.74,220.26 611.82,220.42 612.91,220.57 613.99,220.73 615.07,220.89 616.16,221.04 617.24,221.21 618.32,221.37 619.41,221.53 620.49,221.70 621.57,221.86 622.66,222.02 623.74,222.18 624.82,222.34 625.91,222.49 626.99,222.65 628.08,222.82 629.16,222.98 630.24,223.15 631.33,223.32 632.41,223.48 633.49,223.64 634.58,223.81 635.66,223.97 636.74,224.13 637.83,224.29 638.91,224.45 640.00,224.61 641.08,224.76 642.16,224.92 643.25,225.07 644.33,225.22 645.41,225.37 646.50,225.52 647.58,225.67 648.66,225.81 649.75,225.95 650.83,226.10 651.91,226.24 653.00,226.37 654.08,226.51 655.17,226.64 656.25,226.77 657.33,226.90 658.42,227.03 659.50,227.15" fill="none" stroke="#00f" stroke-width="3"/>
<polyline points="388.60,54.94 389.68,57.16 390.77,59.35 391.85,61.51 392.93,63.65 394.02,65.76 395.10,67.84 396.19,69.90 397.27,71.93 398.35,73.93 399.44,75.92 400.52,77.87 401.60,79.80 402.69,81.71 403.77,83.60 404.85,85.46 405.94,87.30 407.02,89.11 408.10,90.91 409.19,92.68 410.27,94.43 411.36,96.15 412.44,97.86 413.52,99.55 414.61,101.21 415.69,102.85 416.77,104.48 417.86,106.08 418.94,107.66 420.02,109.23 421.11,110.77 422.19,112.30 423.28,113.81 424.36,115.30 425.44,116.77 426.53,118.22 427.61,119.65 428.69,121.07 429.78,122.47 430.86,123.85 431.94,125.22 433.03,126.57 434.11,127.90 435.19,129.21 436.28,130.51 437.36,131.80 438.45,133.07 439.53,134.32 440.61,135.55 441.70,136.78 442.78,137.98 443.86,139.18 444.95,140.35 446.03,141.52 447.11,142.66 448.20,143.80 449.28,144.92 450.37,146.03 451.45,147.12 452.53,148.20 453.62,149.27 454.70,150.32 455.78,151.36 456.87,152.39 457.95,153.41 459.03,154.41 460.12,155.40 461.20,156.38 462.28,157.34 463.37,158.30 464.45,159.24 465.54,160.17 466.62,161.09 467.70,162.00 468.79,162.90 469.87,163.79 470.95,164.66 472.04,165.53 473.12,166.38 474.20,167.22 475.29,168.06 476.37,168.88 477.46,169.69 478.54,170.50 479.62,171.29 480.71,172.07 481.79,172.85 482.87,173.61 483.96,174.37 485.04,175.11 486.12,175.85 487.21,176.58 488.29,177.29 489.37,178.00 490.46,178.70 491.54,179.40 492.63,180.08 493.71,180.76 494.79,181.42 495.88,182.08 496.96,182.73 498.04,183.37 499.13,184.01 500.21,184.63 501.29,185.25 502.38,185.86 503.46,186.47 504.55,187.06 505.63,187.65 506.71,188.23 507.80,188.81 508.88,189.38 509.96,189.94 511.05,190.49 512.13,191.04 513.21,191.58 514.30,192.11 515.38,192.64 516.46,193.15 517.55,193.67 518.63,194.18 519.72,194.68 520.80,195.17 521.88,195.66 522.97,196.14 524.05,196.62 525.13,197.09 526.22,197.55 527.30,198.01 528.38,198.46 529.47,198.91 530.55,199.35 531.64,199.79 532.72,200.22 533.80,200.65 534.89,201.07 535.97,201.48 537.05,201.89 538.14,202.29 539.22,202.69 540.30,203.09 541.39,203.48 542.47,203.86 543.55,204.24 544.64,204.62 545.72,204.99 546.81,205.36 547.89,205.72 548.97,206.07 550.06,206.43 551.14,206.78 552.22,207.12 553.31,207.46 554.39,207.79 555.47,208.13 556.56,208.45 557.64,208.78 558.73,209.09 559.81,209.41 560.89,209.72 561.98,210.03 563.06,210.33 564.14,210.63 565.23,210.93 566.31,211.22 567.39,211.51 568.48,211.79 569.56,212.08 570.64,212.35 571.73,212.63 572.81,212.90 573.90,213.17 574.98,213.43 576.06,213.70 577.15,213.95 578.23,214.21 579.31,214.46 580.40,214.71 581.48,214.96 582.56,215.20 583.65,215.44 584.73,215.68 585.82,215.91 586.90,216.14 587.98,216.36 589.07,216.58 590.15,216.79 591.23,217.00 592.32,217.21 593.40,217.41 594.48,217.61 595.57,217.81 596.65,218.00 597.73,218.19 598.82,218.37 599.90,218.56 600.99,218.74 602.07,218.91 603.15,219.09 604.24,219.26 605.32,219.43 606.40,219.60 607.49,219.77 608.57,219.93 609.65,220.09 610.74,220.26 611.82,220.42 612.91,220.57 613.99,220.73 615.07,220.89 616.16,221.04 617.24,221.21 618.32,221.37 619.41,221.53 620.49,221.70 621.57,221.86 622.66,222.02 623.74,222.18 624.82,222.34 625.91,222.49 626.99,222.65 628.08,222.82 629.16,222.98 630.24,223.15 631.33,223.32 632.41,223.48 633.49,223.64 634.58,223.81 635.66,223.97 636.74,224.13 637.83,224.29 638.91,224.45 640.00,224.61 641.08,224.76 642.16,224.92 643.25,225.07 644.33,225.22 645.41,225.37 646.50,225.52 647.58,225.67 648.66,225.81 649.75,225.95 650.83,226.10 651.91,226.24 653.00,226.37 654.08,226.51 655.17,226.64 656.25,226.77 657.33,226.90 658.42,227.03 659.50,227.15" fill="none" stroke="#0ff" stroke-width="3" stroke-dasharray="9.8 10.2"/>
<polyline points="388.60,54.94 389.68,56.78 390.77,58.60 391.85,60.41 392.93,62.21 394.02,63.99 395.10,65.76 396.19,67.51 397.27,69.25 398.35,70.98 399.44,72.70 400.52,74.40 401.60,76.08 402.69,77.76 403.77,79.42 404.85,81.06 405.94,82.70 407.02,84.32 408.10,85.92 409.19,87.52 410.27,89.09 411.36,90.66 412.44,92.21 413.52,93.75 414.61,95.28 415.69,96.79 416.77,98.29 417.86,99.78 418.94,101.25 420.02,102.71 421.11,104.16 422.19,105.60 423.28,107.02 424.36,108.43 425.44,109.83 426.53,111.21 427.61,112.58 428.69,113.94 429.78,115.29 430.86,116.62 431.94,117.94 433.03,119.25 434.11,120.55 435.19,121.84 436.28,123.11 437.36,124.37 438.45,125.62 439.53,126.86 440.61,128.08 441.70,129.30 442.78,130.50 443.86,131.69 444.95,132.87 446.03,134.03 447.11,135.19 448.20,136.33 449.28,137.47 450.37,138.59 451.45,139.70 452.53,140.80 453.62,141.89 454.70,142.97 455.78,144.03 456.87,145.09 457.95,146.13 459.03,147.17 460.12,148.19 461.20,149.21 462.28,150.21 463.37,151.20 464.45,152.18 465.54,153.16 466.62,154.12 467.70,155.07 468.79,156.01 469.87,156.95 470.95,157.87 472.04,158.78 473.12,159.69 474.20,160.58 475.29,161.46 476.37,162.34 477.46,163.20 478.54,164.06 479.62,164.91 480.71,165.75 481.79,166.57 482.87,167.39 483.96,168.20 485.04,169.01 486.12,169.80 487.21,170.58 488.29,171.36 489.37,172.13 490.46,172.89 491.54,173.64 492.63,174.38 493.71,175.11 494.79,175.84 495.88,176.56 496.96,177.27 498.04,177.97 499.13,178.66 500.21,179.35 501.29,180.03 502.38,180.70 503.46,181.36 504.55,182.02 505.63,182.67 506.71,183.31 507.80,183.94 508.88,184.57 509.96,185.18 511.05,185.80 512.13,186.40 513.21,187.00 514.30,187.59 515.38,188.17 516.46,188.75 517.55,189.32 518.63,189.89 519.72,190.44 520.80,190.99 521.88,191.54 522.97,192.08 524.05,192.61 525.13,193.13 526.22,193.65 527.30,194.17 528.38,194.67 529.47,195.18 530.55,195.67 531.64,196.16 532.72,196.64 533.80,197.12 534.89,197.59 535.97,198.06 537.05,198.52 538.14,198.98 539.22,199.43 540.30,199.87 541.39,200.31 542.47,200.74 543.55,201.17 544.64,201.60 545.72,202.01 546.81,202.43 547.89,202.84 548.97,203.24 550.06,203.64 551.14,204.03 552.22,204.42 553.31,204.81 554.39,205.19 555.47,205.56 556.56,205.93 557.64,206.30 558.73,206.66 559.81,207.02 560.89,207.37 561.98,207.72 563.06,208.06 564.14,208.40 565.23,208.74 566.31,209.07 567.39,209.40 568.48,209.72 569.56,210.04 570.64,210.36 571.73,210.67 572.81,210.98 573.90,211.28 574.98,211.58 576.06,211.88 577.15,212.17 578.23,212.47 579.31,212.75 580.40,213.04 581.48,213.32 582.56,213.59 583.65,213.86 584.73,214.13 585.82,214.40 586.90,214.66 587.98,214.92 589.07,215.17 590.15,215.43 591.23,215.67 592.32,215.92 593.40,216.16 594.48,216.40 595.57,216.63 596.65,216.86 597.73,217.09 598.82,217.32 599.90,217.54 600.99,217.76 602.07,217.98 603.15,218.19 604.24,218.40 605.32,218.61 606.40,218.82 607.49,219.02 608.57,219.23 609.65,219.43 610.74,219.62 611.82,219.82 612.91,220.01 613.99,220.21 615.07,220.40 616.16,220.58 617.24,220.77 618.32,220.96 619.41,221.15 620.49,221.33 621.57,221.52 622.66,221.70 623.74,221.88 624.82,222.06 625.91,222.23 626.99,222.41 628.08,222.59 629.16,222.76 630.24,222.94 631.33,223.11 632.41,223.28 633.49,223.45 634.58,223.62 635.66,223.79 636.74,223.96 637.83,224.12 638.91,224.29 640.00,224.45 641.08,224.61 642.16,224.77 643.25,224.93 644.33,225.09 645.41,225.24 646.50,225.40 647.58,225.55 648.66,225.70 649.75,225.85 650.83,226.00 651.91,226.15 653.00,226.30 654.08,226.44 655.17,226.59 656.25,226.73 657.33,226.87 658.42,227.01 659.50,227.15" fill="none" stroke="#f00" stroke-width="3"/>
<polyline points="388.60,54.94 389.68,56.78 390.77,58.60 391.85,60.41 392.93,62.21 394.02,63.99 395.10,65.76 396.19,67.51 397.27,69.25 398.35,70.98 399.44,72.70 400.52,74.40 401.60,76.08 402.69,77.76 403.77,79.42 404.85,81.06 405.94,82.70 407.02,84.32 408.10,85.92 409.19,87.52 410.27,89.09 411.36,90.66 412.44,92.21 413.52,93.75 414.61,95.28 415.69,96.79 416.77,98.29 417.86,99.78 418.94,101.25 420.02,102.71 421.11,104.16 422.19,105.60 423.28,107.02 424.36,108.43 425.44,109.83 426.53,111.21 427.61,112.58 428.69,113.94 429.78,115.29 430.86,116.62 431.94,117.94 433.03,119.25 434.11,120.55 435.19,121.84 436.28,123.11 437.36,124.37 438.45,125.62 439.53,126.86 440.61,128.08 441.70,129.30 442.78,130.50 443.86,131.69 444.95,132.87 446.03,134.03 447.11,135.19 448.20,136.33 449.28,137.47 450.37,138.59 451.45,139.70 452.53,140.80 453.62,141.89 454.70,142.97 455.78,144.03 456.87,145.09 457.95,146.13 459.03,147.17 460.12,148.19 461.20,149.21 462.28,150.21 463.37,151.20 464.45,152.18 465.54,153.16 466.62,154.12 467.70,155.07 468.79,156.01 469.87,156.95 470.95,157.87 472.04,158.78 473.12,159.69 474.20,160.58 475.29,161.46 476.37,162.34 477.46,163.20 478.54,164.06 479.62,164.91 480.71,165.75 481.79,166.57 482.87,167.39 483.96,168.20 485.04,169.01 486.12,169.80 487.21,170.58 488.29,171.36 489.37,172.13 490.46,172.89 491.54,173.64 492.63,174.38 493.71,175.11 494.79,175.84 495.88,176.56 496.96,177.27 498.04,177.97 499.13,178.66 500.21,179.35 501.29,180.03 502.38,180.70 503.46,181.36 504.55,182.02 505.63,182.67 506.71,183.31 507.80,183.94 508.88,184.57 509.96,185.18 511.05,185.80 512.13,186.40 513.21,187.00 514.30,187.59 515.38,188.17 516.46,188.75 517.55,189.32 518.63,189.89 519.72,190.44 520.80,190.99 521.88,191.54 522.97,192.08 524.05,192.61 525.13,193.13 526.22,193.65 527.30,194.17 528.38,194.67 529.47,195.18 530.55,195.67 531.64,196.16 532.72,196.64 533.80,197.12 534.89,197.59 535.97,198.06 537.05,198.52 538.14,198.98 539.22,199.43 540.30,199.87 541.39,200.31 542.47,200.74 543.55,201.17 544.64,201.60 545.72,202.01 546.81,202.43 547.89,202.84 548.97,203.24 550.06,203.64 551.14,204.03 552.22,204.42 553.31,204.81 554.39,205.19 555.47,205.56 556.56,205.93 557.64,206.30 558.73,206.66 559.81,207.02 560.89,207.37 561.98,207.72 563.06,208.06 564.14,208.40 565.23,208.74 566.31,209.07 567.39,209.40 568.48,209.72 569.56,210.04 570.64,210.36 571.73,210.67 572.81,210.98 573.90,211.28 574.98,211.58 576.06,211.88 577.15,212.17 578.23,212.47 579.31,212.75 580.40,213.04 581.48,213.32 582.56,213.59 583.65,213.86 584.73,214.13 585.82,214.40 586.90,214.66 587.98,214.92 589.07,215.17 590.15,215.43 591.23,215.67 592.32,215.92 593.40,216.16 594.48,216.40 595.57,216.63 596.65,216.86 597.73,217.09 598.82,217.32 599.90,217.54 600.99,217.76 602.07,217.98 603.15,218.19 604.24,218.40 605.32,218.61 606.40,218.82 607.49,219.02 608.57,219.23 609.65,219.43 610.74,219.62 611.82,219.82 612.91,220.01 613.99,220.21 615.07,220.40 616.16,220.58 617.24,220.77 618.32,220.96 619.41,221.15 620.49,221.33 621.57,221.52 622.66,221.70 623.74,221.88 624.82,222.06 625.91,222.23 626.99,222.41 628.08,222.59 629.16,222.76 630.24,222.94 631.33,223.11 632.41,223.28 633.49,223.45 634.58,223.62 635.66,223.79 636.74,223.96 637.83,224.12 638.91,224.29 640.00,224.45 641.08,224.61 642.16,224.77 643.25,224.93 644.33,225.09 645.41,225.24 646.50,225.40 647.58,225.55 648.66,225.70 649.75,225.85 650.83,226.00 651.91,226.15 653.00,226.30 654.08,226.44 655.17,226.59 656.25,226.73 657.33,226.87 658.42,227.01 659.50,227.15" fill="none" stroke="#0f0" stroke-width="3" stroke-dasharray="9.8 10.2"/>
<polyline points="388.60,54.94 389.68,56.31 390.77,57.69 391.85,59.07 392.93,60.45 394.02,61.84 395.10,63.22 396.19,64.61 397.27,66.01 398.35,67.40 399.44,68.79 400.52,70.19 401.60,71.58 402.69,72.97 403.77,74.37 404.85,75.76 405.94,77.15 407.02,78.54 408.10,79.92 409.19,81.31 410.27,82.69 411.36,84.07 412.44,85.44 413.52,86.81 414.61,88.18 415.69,89.54 416.77,90.90 417.86,92.26 418.94,93.61 420.02,94.95 421.11,96.29 422.19,97.63 423.28,98.95 424.36,100.28 425.44,101.59 426.53,102.90 427.61,104.21 428.69,105.50 429.78,106.80 430.86,108.08 431.94,109.36 433.03,110.63 434.11,111.89 435.19,113.15 436.28,114.39 437.36,115.64 438.45,116.87 439.53,118.09 440.61,119.31 441.70,120.52 442.78,121.72 443.86,122.92 444.95,124.10 446.03,125.28 447.11,126.45 448.20,127.61 449.28,128.77 450.37,129.91 451.45,131.05 452.53,132.17 453.62,133.29 454.70,134.40 455.78,135.51 456.87,136.60 457.95,137.68 459.03,138.76 460.12,139.83 461.20,140.89 462.28,141.94 463.37,142.98 464.45,144.01 465.54,145.03 466.62,146.05 467.70,147.05 468.79,148.05 469.87,149.04 470.95,150.02 472.04,150.99 473.12,151.95 474.20,152.91 475.29,153.85 476.37,154.79 477.46,155.72 478.54,156.64 479.62,157.55 480.71,158.45 481.79,159.35 482.87,160.23 483.96,161.11 485.04,161.98 486.12,162.84 487.21,163.69 488.29,164.53 489.37,165.37 490.46,166.19 491.54,167.01 492.63,167.82 493.71,168.62 494.79,169.42 495.88,170.20 496.96,170.98 498.04,171.75 499.13,172.51 500.21,173.27 501.29,174.01 502.38,174.75 503.46,175.48 504.55,176.21 505.63,176.92 506.71,177.63 507.80,178.33 508.88,179.02 509.96,179.71 511.05,180.38 512.13,181.06 513.21,181.72 514.30,182.37 515.38,183.02 516.46,183.67 517.55,184.30 518.63,184.93 519.72,185.55 520.80,186.16 521.88,186.77 522.97,187.37 524.05,187.96 525.13,188.55 526.22,189.13 527.30,189.70 528.38,190.27 529.47,190.83 530.55,191.39 531.64,191.93 532.72,192.47 533.80,193.01 534.89,193.54 535.97,194.06 537.05,194.58 538.14,195.09 539.22,195.60 540.30,196.10 541.39,196.59 542.47,197.08 543.55,197.56 544.64,198.04 545.72,198.51 546.81,198.98 547.89,199.44 548.97,199.90 550.06,200.36 551.14,200.80 552.22,201.25 553.31,201.69 554.39,202.12 555.47,202.55 556.56,202.97 557.64,203.39 558.73,203.81 559.81,204.22 560.89,204.62 561.98,205.02 563.06,205.42 564.14,205.81 565.23,206.19 566.31,206.58 567.39,206.95 568.48,207.33 569.56,207.69 570.64,208.06 571.73,208.42 572.81,208.77 573.90,209.12 574.98,209.47 576.06,209.81 577.15,210.14 578.23,210.47 579.31,210.80 580.40,211.13 581.48,211.44 582.56,211.76 583.65,212.07 584.73,212.38 585.82,212.68 586.90,212.98 587.98,213.27 589.07,213.57 590.15,213.86 591.23,214.14 592.32,214.42 593.40,214.70 594.48,214.98 595.57,215.25 596.65,215.52 597.73,215.79 598.82,216.05 599.90,216.31 600.99,216.57 602.07,216.82 603.15,217.07 604.24,217.32 605.32,217.57 606.40,217.81 607.49,218.05 608.57,218.29 609.65,218.53 610.74,218.76 611.82,218.99 612.91,219.22 613.99,219.45 615.07,219.67 616.16,219.89 617.24,220.11 618.32,220.33 619.41,220.54 620.49,220.75 621.57,220.96 622.66,221.16 623.74,221.37 624.82,221.57 625.91,221.77 626.99,221.96 628.08,222.16 629.16,222.35 630.24,222.54 631.33,222.72 632.41,222.91 633.49,223.09 634.58,223.28 635.66,223.46 636.74,223.64 637.83,223.81 638.91,223.99 640.00,224.16 641.08,224.34 642.16,224.51 643.25,224.68 644.33,224.85 645.41,225.02 646.50,225.19 647.58,225.35 648.66,225.52 649.75,225.68 650.83,225.85 651.91,226.01 653.00,226.18 654.08,226.34 655.17,226.50 656.25,226.66 657.33,226.83 658.42,226.99 659.50,227.15" fill="none" stroke="#ff0" stroke-width="3"/>
<polyline points="388.60,54.94 389.68,56.31 390.77,57.69 391.85,59.07 392.93,60.45 394.02,61.84 395.10,63.22 396.19,64.61 397.27,66.01 398.35,67.40 399.44,68.79 400.52,70.19 401.60,71.58 402.69,72.97 403.77,74.37 404.85,75.76 405.94,77.15 407.02,78.54 408.10,79.92 409.19,81.31 410.27,82.69 411.36,84.07 412.44,85.44 413.52,86.81 414.61,88.18 415.69,89.54 416.77,90.90 417.86,92.26 418.94,93.61 420.02,94.95 421.11,96.29 422.19,97.63 423.28,98.95 424.36,100.28 425.44,101.59 426.53,102.90 427.61,104.21 428.69,105.50 429.78,106.80 430.86,108.08 431.94,109.36 433.03,110.63 434.11,111.89 435.19,113.15 436.28,114.39 437.36,115.64 438.45,116.87 439.53,118.09 440.61,119.31 441.70,120.52 442.78,121.72 443.86,122.92 444.95,124.10 446.03,125.28 447.11,126.45 448.20,127.61 449.28,128.77 450.37,129.91 451.45,131.05 452.53,132.17 453.62,133.29 454.70,134.40 455.78,135.51 456.87,136.60 457.95,137.68 459.03,138.76 460.12,139.83 461.20,140.89 462.28,141.94 463.37,142.98 464.45,144.01 465.54,145.03 466.62,146.05 467.70,147.05 468.79,148.05 469.87,149.04 470.95,150.02 472.04,150.99 473.12,151.95 474.20,152.91 475.29,153.85 476.37,154.79 477.46,155.72 478.54,156.64 479.62,157.55 480.71,158.45 481.79,159.35 482.87,160.23 483.96,161.11 485.04,161.98 486.12,162.84 487.21,163.69 488.29,164.53 489.37,165.37 490.46,166.19 491.54,167.01 492.63,167.82 493.71,168.62 494.79,169.42 495.88,170.20 496.96,170.98 498.04,171.75 499.13,172.51 500.21,173.27 501.29,174.01 502.38,174.75 503.46,175.48 504.55,176.21 505.63,176.92 506.71,177.63 507.80,178.33 508.88,179.02 509.96,179.71 511.05,180.38 512.13,181.06 513.21,181.72 514.30,182.37 515.38,183.02 516.46,183.67 517.55,184.30 518.63,184.93 519.72,185.55 520.80,186.16 521.88,186.77 522.97,187.37 524.05,187.96 525.13,188.55 526.22,189.13 527.30,189.70 528.38,190.27 529.47,190.83 530.55,191.39 531.64,191.93 532.72,192.47 533.80,193.01 534.89,193.54 535.97,194.06 537.05,194.58 538.14,195.09 539.22,195.60 540.30,196.10 541.39,196.59 542.47,197.08 543.55,197.56 544.64,198.04 545.72,198.51 546.81,198.98 547.89,199.44 548.97,199.90 550.06,200.36 551.14,200.80 552.22,201.25 553.31,201.69 554.39,202.12 555.47,202.55 556.56,202.97 557.64,203.39 558.73,203.81 559.81,204.22 560.89,204.62 561.98,205.02 563.06,205.42 564.14,205.81 565.23,206.19 566.31,206.58 567.39,206.95 568.48,207.33 569.56,207.69 570.64,208.06 571.73,208.42 572.81,208.77 573.90,209.12 574.98,209.47 576.06,209.81 577.15,210.14 578.23,210.47 579.31,210.80 580.40,211.13 581.48,211.44 582.56,211.76 583.65,212.07 584.73,212.38 585.82,212.68 586.90,212.98 587.98,213.27 589.07,213.57 590.15,213.86 591.23,214.14 592.32,214.42 593.40,214.70 594.48,214.98 595.57,215.25 596.65,215.52 597.73,215.79 598.82,216.05 599.90,216.31 600.99,216.57 602.07,216.82 603.15,217.07 604.24,217.32 605.32,217.57 606.40,217.81 607.49,218.05 608.57,218.29 609.65,218.53 610.74,218.76 611.82,218.99 612.91,219.22 613.99,219.45 615.07,219.67 616.16,219.89 617.24,220.11 618.32,220.33 619.41,220.54 620.49,220.75 621.57,220.96 622.66,221.16 623.74,221.37 624.82,221.57 625.91,221.77 626.99,221.96 628.08,222.16 629.16,222.35 630.24,222.54 631.33,222.72 632.41,222.91 633.49,223.09 634.58,223.28 635.66,223.46 636.74,223.64 637.83,223.81 638.91,223.99 640.00,224.16 641.08,224.34 642.16,224.51 643.25,224.68 644.33,224.85 645.41,225.02 646.50,225.19 647.58,225.35 648.66,225.52 649.75,225.68 650.83,225.85 651.91,226.01 653.00,226.18 654.08,226.34 655.17,226.50 656.25,226.66 657.33,226.83 658.42,226.99 659.50,227.15" fill="none" stroke="#000" stroke-width="3" stroke-dasharray="9.8 10.2"/>
<rect x="503.4" y="26.1" width="151.20" height="98.90" fill="#fff" stroke="#262626" stroke-width="0.5"/>
<path d="M506.0 33.06H530.9" stroke="#000" stroke-width="3"/>
<text x="532.4" y="36.36" font-family="Liberation Sans, Arial, Helvetica, sans-serif" font-size="9.2" fill="#111" stroke="#111" stroke-width="0.2">Reference solution: M1 = 0.1</text>
<path d="M506.0 45.25H530.9" stroke="#f0f" stroke-width="3" stroke-dasharray="10.2 9.9"/>
<text x="532.4" y="48.55" font-family="Liberation Sans, Arial, Helvetica, sans-serif" font-size="9.2" fill="#111" stroke="#111" stroke-width="0.2">MWNNs-PSO-NNA: M1 = 0.1</text>
<path d="M506.0 57.44H530.9" stroke="#00f" stroke-width="3"/>
<text x="532.4" y="60.74" font-family="Liberation Sans, Arial, Helvetica, sans-serif" font-size="9.2" fill="#111" stroke="#111" stroke-width="0.2">Reference solution: M1 = 1.1</text>
<path d="M506.0 69.63H530.9" stroke="#0ff" stroke-width="3" stroke-dasharray="10.2 9.9"/>
<text x="532.4" y="72.93" font-family="Liberation Sans, Arial, Helvetica, sans-serif" font-size="9.2" fill="#111" stroke="#111" stroke-width="0.2">MWNNs-PSO-NNA: M1 = 1.1</text>
<path d="M506.0 81.82H530.9" stroke="#f00" stroke-width="3"/>
<text x="532.4" y="85.12" font-family="Liberation Sans, Arial, Helvetica, sans-serif" font-size="9.2" fill="#111" stroke="#111" stroke-width="0.2">Reference solution: M1 = 2.2</text>
<path d="M506.0 94.01H530.9" stroke="#0f0" stroke-width="3" stroke-dasharray="10.2 9.9"/>
<text x="532.4" y="97.31" font-family="Liberation Sans, Arial, Helvetica, sans-serif" font-size="9.2" fill="#111" stroke="#111" stroke-width="0.2">MWNNs-PSO-NNA: M1 = 2.2</text>
<path d="M506.0 106.20H530.9" stroke="#ff0" stroke-width="3"/>
<text x="532.4" y="109.50" font-family="Liberation Sans, Arial, Helvetica, sans-serif" font-size="9.2" fill="#111" stroke="#111" stroke-width="0.2">Reference solution: M2 = 3.3</text>
<path d="M506.0 118.39H530.9" stroke="#000" stroke-width="3" stroke-dasharray="10.2 9.9"/>
<text x="532.4" y="121.69" font-family="Liberation Sans, Arial, Helvetica, sans-serif" font-size="9.2" fill="#111" stroke="#111" stroke-width="0.2">MWNNs-PSO-NNA: M2 = 3.3</text>
<text x="350.4" y="279.2" font-family="Liberation Serif, Times New Roman, serif" font-size="17.3" fill="#000" stroke="#000" stroke-width="0.25">(f)</text>
<path d="M0 0H685V294H0Z M1.05 1V292.7H683.9V1Z" fill="#2b2b2b" fill-rule="evenodd"/>
<rect x="341.95" y="0" width="1.05" height="294" fill="#3a3a3a"/>
</svg>
</body></html>
